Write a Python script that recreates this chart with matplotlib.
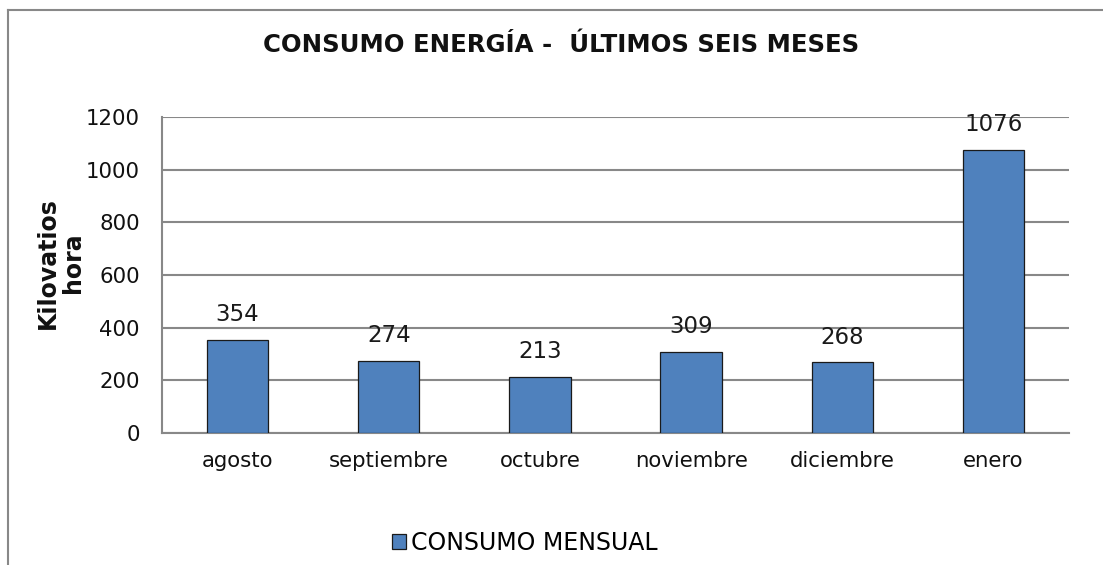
import matplotlib
matplotlib.use("Agg")
import matplotlib.pyplot as plt
from matplotlib.lines import Line2D
from matplotlib.patches import Patch

months = ["agosto", "septiembre", "octubre", "noviembre", "diciembre", "enero"]
consumo = [354, 274, 213, 309, 268, 1076]
yticks = [0, 200, 400, 600, 800, 1000, 1200]

plt.rcParams['font.family'] = ['DejaVu Sans']

fig = plt.figure(figsize=(11.03, 5.65), dpi=100)
ax = fig.add_axes([0.1469, 0.2336, 0.8223, 0.5593])

bar_color = "#4F81BD"
grid_color = "#888888"
x = list(range(len(months)))
bars = ax.bar(x, consumo, width=0.406, color=bar_color, edgecolor="#1a1a1a",
              linewidth=0.9, zorder=3)
for xi, v in zip(x, consumo):
    ax.annotate(str(v), (xi, v), xytext=(0, 10), textcoords="offset points",
                ha="center", va="bottom", fontsize=16.5, color="#1a1a1a")

ax.set_xlim(-0.5, len(months) - 0.5)
ax.set_ylim(0, 1200)
ax.set_yticks(yticks)
ax.set_xticks(x)
ax.set_xticklabels(months)
ax.tick_params(axis="both", length=0, labelsize=15.3, colors="#111111")
ax.tick_params(axis="x", pad=13)
ax.tick_params(axis="y", pad=16)
ax.yaxis.grid(True, color=grid_color, linewidth=1.5, zorder=0)
ax.set_axisbelow(True)
for s in ["top", "right"]:
    ax.spines[s].set_visible(False)
for s in ["left", "bottom"]:
    ax.spines[s].set_color(grid_color)
    ax.spines[s].set_linewidth(1.5)

fig.text(0.509, 0.920, "CONSUMO ENERGÍA -  ÚLTIMOS SEIS MESES", ha="center",
         va="center", fontsize=17.6, fontweight="bold", color="#111111")
fig.text(0.055, 0.535, "Kilovatios\nhora", rotation=90, ha="center", va="center",
         fontsize=17, fontweight="bold", color="#111111", linespacing=1.05)

handle = Patch(facecolor=bar_color, edgecolor="#1a1a1a", linewidth=0.9)
fig.legend([handle], ["CONSUMO MENSUAL"], loc="center", bbox_to_anchor=(0.476, 0.039),
           frameon=False, fontsize=17, handlelength=0.6, handleheight=0.6,
           handletextpad=0.2)

# outer chart frame (partially cropped)
fig.add_artist(Line2D([8/1103, 8/1103], [0, 1 - 10/565], transform=fig.transFigure,
                      color=grid_color, linewidth=1.5))
fig.add_artist(Line2D([8/1103, 1], [1 - 10/565, 1 - 10/565], transform=fig.transFigure,
                      color=grid_color, linewidth=1.5))

fig.savefig("out.png", dpi=100)
